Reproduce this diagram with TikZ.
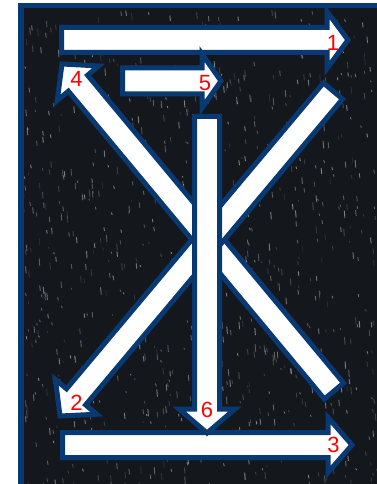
\documentclass[tikz,border=0pt]{standalone}
\usepackage{fontspec}
\setmainfont{Liberation Sans}
\usetikzlibrary{calc}
\definecolor{navy}{RGB}{8,57,115}
\definecolor{bgdark}{RGB}{20,23,27}
\definecolor{lblred}{RGB}{255,0,0}
\tikzset{
  fatarrow/.style={fill=white, draw=navy, line width=5pt, line join=miter, miter limit=10},
  numlabel/.style={text=lblred, font=\fontsize{22}{22}\selectfont, inner sep=0pt},
  speck/.style={draw=white, line cap=round}
}
% #1 tail, #2 tip, #3 shaft half width, #4 head half width, #5 head length
\newcommand\fatarr[5]{%
  \coordinate (hb) at ($(#2)!#5!(#1)$);
  \draw[fatarrow] ($(#1)!#3!90:(#2)$) -- ($(hb)!#3!90:(#2)$) -- ($(hb)!#4!90:(#2)$) -- (#2)
    -- ($(hb)!#4!-90:(#2)$) -- ($(hb)!#3!-90:(#2)$) -- ($(#1)!#3!-90:(#2)$) -- cycle;}
\begin{document}
\begin{tikzpicture}[x=1pt,y=-1pt]
\useasboundingbox (0,0) rectangle (377,484);
\clip (0,0) rectangle (377,484);
% background board
\fill[bgdark] (18,3) rectangle (400,500);
\begin{scope}
  \clip (23,9) rectangle (377,484);
  \pgfmathsetseed{42}
  \foreach \i in {1,...,900}{
    \pgfmathsetmacro\xx{23+354*rnd}
    \pgfmathsetmacro\yy{9+475*rnd}
    \pgfmathsetmacro\ll{1+6*rnd}
    \pgfmathsetmacro\op{0.08+0.4*rnd}
    \draw[speck, line width=0.9pt, draw opacity=\op] (\xx,\yy) -- ++(0.5,\ll);
  }
\end{scope}
\draw[navy, line width=5.5pt] (20.75,5.75) rectangle (400,500);
% arrow end points
\coordinate (a1t) at (61.5,40);  \coordinate (a1h) at (348,40);
\coordinate (a5t) at (122.5,81); \coordinate (a5h) at (221,81);
\coordinate (a4t) at (334,391);  \coordinate (a4h) at (62,64);
\coordinate (a2t) at (333,91);   \coordinate (a2h) at (60,416);
\coordinate (a3t) at (62.5,445); \coordinate (a3h) at (352,445);
\coordinate (a6t) at (207,116.5);\coordinate (a6h) at (207,433);
\fatarr{a1t}{a1h}{12.5pt}{28.5pt}{21pt}
\fatarr{a5t}{a5h}{13pt}{27pt}{19pt}
\fatarr{a4t}{a4h}{12.5pt}{27pt}{25pt}
\fatarr{a2t}{a2h}{12.5pt}{27pt}{25pt}
\fatarr{a3t}{a3h}{12.5pt}{27.5pt}{24pt}
\fatarr{a6t}{a6h}{12.5pt}{28pt}{24pt}
% labels
\node[numlabel] (l1) at (333,42.5) {1};
\node[numlabel] (l4) at (76.5,78.5) {4};
\node[numlabel] (l5) at (205,83.5) {5};
\node[numlabel] (l2) at (76.5,402.5) {2};
\node[numlabel] (l6) at (207,410) {6};
\node[numlabel] (l3) at (333.5,445) {3};
\end{tikzpicture}
\end{document}
